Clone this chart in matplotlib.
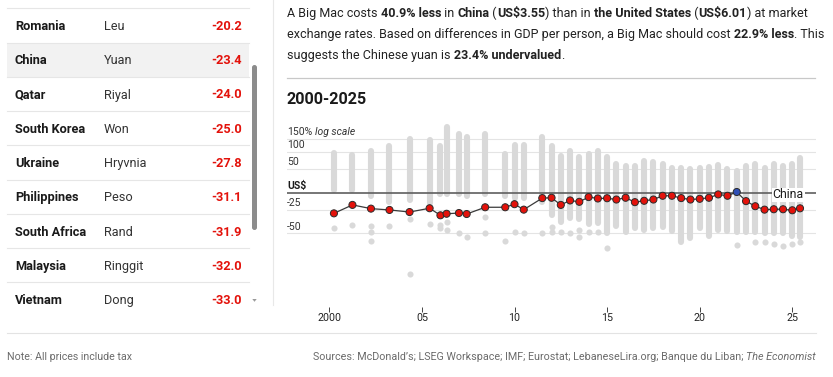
import numpy as np
import matplotlib
matplotlib.use("Agg")
import matplotlib.pyplot as plt
from matplotlib import transforms
from matplotlib.patches import Rectangle, FancyBboxPatch, Polygon

plt.rcParams['font.family'] = ['Roboto', 'DejaVu Sans']

# ---------------- data ----------------
countries = ["Romania", "China", "Qatar", "South Korea", "Ukraine",
             "Philippines", "South Africa", "Malaysia", "Vietnam"]
currencies = ["Leu", "Yuan", "Riyal", "Won", "Hryvnia", "Peso", "Rand", "Ringgit", "Dong"]
valuation = [-20.2, -23.4, -24.0, -25.0, -27.8, -31.1, -31.9, -32.0, -33.0]

dates = ["2000-04", "2001-04", "2002-04", "2003-04", "2004-05", "2005-06",
         "2006-01", "2006-05", "2007-01", "2007-06", "2008-06", "2009-07",
         "2010-01", "2010-07", "2011-07", "2012-01", "2012-07", "2013-01",
         "2013-07", "2014-01", "2014-07", "2015-01", "2015-07", "2016-01",
         "2016-07", "2017-01", "2017-07", "2018-01", "2018-07", "2019-01",
         "2019-07", "2020-01", "2020-07", "2021-01", "2021-07", "2022-01",
         "2022-07", "2023-01", "2023-07", "2024-01", "2024-07", "2025-01",
         "2025-06"]
china = [-29.7, -18.8, -23.8, -25.5, -28.1, -23.3, -32.0, -30.2, -29.3, -30.5,
         -22.0, -22.0, -17.8, -25.1, -8.8, -8.3, -18.8, -12.4, -14.4, -7.2,
         -9.4, -9.0, -11.0, -8.3, -14.9, -12.9, -11.0, -5.1, -5.1, -8.8,
         -11.0, -9.9, -8.3, -2.9, -5.1, 1.2, -13.4, -20.6, -25.1, -24.6,
         -24.6, -25.9, -23.4]
others_hi = [96, 90, 105, 123, 151, 146, 121, 207, 171, 158, 171, 93, 127, 127,
             158, 123, 88, 104, 84, 93, 105, 84, 64, 58, 58, 71, 70, 64, 53, 52,
             49, 53, 54, 60, 49, 46, 58, 64, 53, 62, 58, 64, 82]
others_lo = [5, 5, -6, -14, -11, -16, -3, -3, -3, -5, -3, -5, -8, -8, -15, -32,
             -39, -35, -36, -41, -40, -50, -43, -49, -45, -47, -45, -44, -48, -57,
             -54, -45, -52, -47, -48, -49, -49, -49, -50, -50, -50, -52, -53]
outlier_dates = ["2000-04", "2001-04", "2002-04", "2002-04", "2002-04", "2003-04",
                 "2004-05", "2004-05", "2005-06", "2006-01", "2006-01", "2006-05",
                 "2006-05", "2007-01", "2007-06", "2008-06", "2008-06", "2009-07",
                 "2010-01", "2010-07", "2011-07", "2012-01", "2012-01", "2012-07",
                 "2013-01", "2013-07", "2013-07", "2014-01", "2014-07", "2015-01",
                 "2022-01", "2023-01", "2023-07", "2024-01", "2024-07", "2025-01",
                 "2025-06"]
outlier_vals = [-45, -42, -43, -49, -56, -43, -36, -75, -41, -42, -45, -39, -47,
                -50, -53, -34, -50, -56, -49, -50, -50, -44, -49, -49, -50, -47,
                -53, -49, -49, -61, -59, -57, -57, -58, -60, -58, -57]

xticks = [2000, 2005, 2010, 2015, 2020, 2025]
xtick_labels = ["2000", "05", "10", "15", "20", "25"]
grid_vals = [150, 100, 50, -25, -50]
grid_labels = ["150%", "100", "50", "-25", "-50"]

RED = "#e3120b"
BLUE = "#2f4fb5"
GREY_DOT = "#d9d9d9"

# ---------------- figure ----------------
W, H = 833, 377
fig = plt.figure(figsize=(W / 100, H / 100), dpi=100)
bg = fig.add_axes([0, 0, 1, 1])
bg.set_xlim(0, W)
bg.set_ylim(H, 0)
bg.axis("off")
renderer = fig.canvas.get_renderer()


def text_width(s, **kw):
    t1 = bg.text(0, 0, s + ".", **kw)
    t2 = bg.text(0, 0, ".", **kw)
    w = t1.get_window_extent(renderer).width - t2.get_window_extent(renderer).width
    t1.remove()
    t2.remove()
    return w


def draw_runs(x, y, runs, size, color, align="left"):
    widths = []
    for s, w, st in runs:
        widths.append(text_width(s, fontsize=size, fontweight=w, fontstyle=st))
    total = sum(widths)
    cur = x if align == "left" else x - total
    for (s, w, st), wd in zip(runs, widths):
        bg.text(cur, y, s, fontsize=size, fontweight=w, fontstyle=st,
                color=color, ha="left", va="baseline")
        cur += wd


# ---------------- left table ----------------
row0, row_h = 25.5, 34.25
TS = 9.2
for i in range(len(countries)):
    ysep = row0 - row_h / 2 + i * row_h
    bg.plot([7, 249.5], [ysep, ysep], color="#e6e6e6", lw=0.8, zorder=1)
# China highlight
ci = countries.index("China")
bg.add_patch(Rectangle((7, row0 - row_h / 2 + ci * row_h), 242.5, row_h,
                       facecolor="#f2f2f2", edgecolor="none", zorder=0))
for i, (c, cur, v) in enumerate(zip(countries, currencies, valuation)):
    yb = row0 + i * row_h + 4.5
    bg.text(15, yb, c, fontsize=TS, fontweight="bold", color="#1a1a1a", va="baseline")
    bg.text(104, yb, cur, fontsize=TS, color="#333333", va="baseline")
    bg.text(242, yb, f"{v:.1f}", fontsize=TS, fontweight="bold", color=RED,
            va="baseline", ha="right")

# scrollbar
bg.add_patch(FancyBboxPatch((252, 65), 5, 165, boxstyle="round,pad=0,rounding_size=2.5",
                            facecolor="#8c8c8c", edgecolor="none", zorder=3))
bg.add_patch(Polygon([[252.3, 299], [256.7, 299], [254.5, 301.8]], closed=True,
                     facecolor="#9a9a9a", edgecolor="none"))
# dividers
bg.plot([273.5, 273.5], [0, 305], color="#e8e8e8", lw=0.8)
bg.plot([7, 816], [333.3, 333.3], color="#e3e3e3", lw=0.8)

# ---------------- right text ----------------
N, B = "normal", "bold"
para = [
    [("A Big Mac costs ", N, N), ("40.9% less", B, N), (" in ", N, N), ("China", B, N),
     (" (", N, N), ("US$3.55", B, N), (") than in ", N, N), ("the United States", B, N),
     (" (", N, N), ("US$6.01", B, N), (") at market", N, N)],
    [("exchange rates. Based on differences in GDP per person, a Big Mac should cost ", N, N),
     ("22.9% less", B, N), (". This", N, N)],
    [("suggests the Chinese yuan is ", N, N), ("23.4% undervalued", B, N), (".", N, N)],
]
for k, runs in enumerate(para):
    draw_runs(287, 17.0 + k * 20.9, runs, 9.0, "#222222")
bg.plot([287, 815], [77.6, 77.6], color="#c8c8c8", lw=0.9)
bg.text(287, 104, "2000-2025", fontsize=11.6, fontweight="bold", color="#1a1a1a",
        va="baseline")

# footer
bg.text(7, 360, "Note: All prices include tax", fontsize=7.7, color="#6b6b6b", va="baseline")
draw_runs(816, 360, [("Sources: McDonald\u2019s; LSEG Workspace; IMF; Eurostat; "
                      "LebaneseLira.org; Banque du Liban; ", N, N),
                     ("The Economist", N, "italic")], 7.75, "#6b6b6b", align="right")

# ---------------- chart ----------------
px_per_year = 18.52
x0_px = 329.3
left_px, right_px, top_px, bot_px = 287, 816, 118, 306.5
zero_px, px_per_ln = 192.7, 58.6
ax = fig.add_axes([left_px / W, (H - bot_px) / H, (right_px - left_px) / W,
                   (bot_px - top_px) / H])
ax.set_xlim(2000 + (left_px - x0_px) / px_per_year, 2000 + (right_px - x0_px) / px_per_year)
ax.set_ylim((zero_px - bot_px) / px_per_ln, (zero_px - top_px) / px_per_ln)
for s in ax.spines.values():
    s.set_visible(False)
ax.set_facecolor("none")


def dec(d):
    y, m = d.split("-")
    return int(y) + (int(m) - 1) / 12.0


def ly(p):
    return np.log1p(np.asarray(p, dtype=float) / 100.0)


xd = np.array([dec(d) for d in dates])
xo = np.array([dec(d) for d in outlier_dates])

for v in grid_vals:
    ax.axhline(ly(v), color="#e4e4e4", lw=0.8, zorder=1)
ax.vlines(xd, ly(others_lo), ly(others_hi), colors=GREY_DOT, lw=4.4,
          capstyle="round", zorder=2)
ax.scatter(xo, ly(outlier_vals), s=19.5, color=GREY_DOT, lw=0, zorder=2)
ax.axhline(0, color="#5f5f5f", lw=1.2, zorder=3)

ax.plot(xd, ly(china), color="#3a3a3a", lw=0.9, zorder=4)
cols = [RED if v < 0 else BLUE for v in china]
ax.scatter(xd, ly(china), s=26, c=cols, edgecolors="#2b2b2b", linewidths=0.7, zorder=5)

# China label
lab_tr = transforms.offset_copy(ax.transData, fig=fig, x=0, y=-4.1, units="points")
ax.text(xd[-1] + 0.2, 0, "China", transform=lab_tr, ha="right", va="baseline",
        fontsize=8.8, color="#1a1a1a", zorder=6,
        bbox=dict(facecolor="white", edgecolor="none", pad=0.6))

# y labels
ytr = transforms.offset_copy(transforms.blended_transform_factory(ax.transAxes, ax.transData),
                             fig=fig, x=0, y=2.6, units="points")
for v, lbl in zip(grid_vals, grid_labels):
    ax.text(0, ly(v), lbl, transform=ytr, ha="left", va="baseline",
            fontsize=7.5, color="#333333", zorder=6)
    if v == 150:
        w = text_width("150% ", fontsize=7.5) / ax.bbox.width
        ax.text(w, ly(v), "log scale", transform=ytr, ha="left", va="baseline",
                fontsize=7.5, fontstyle="italic", color="#333333", zorder=6)
ax.text(0, 0, "US$", transform=ytr, ha="left", va="baseline", fontsize=7.5,
        fontweight="bold", color="#1a1a1a", zorder=6)

ax.set_yticks([])
ax.set_xticks(xticks)
ax.set_xticklabels(xtick_labels)
ax.tick_params(axis="x", length=3.6, width=0.7, color="#444444", labelsize=7.7,
               labelcolor="#222222", pad=0.8)

fig.savefig("out.png", dpi=100)
